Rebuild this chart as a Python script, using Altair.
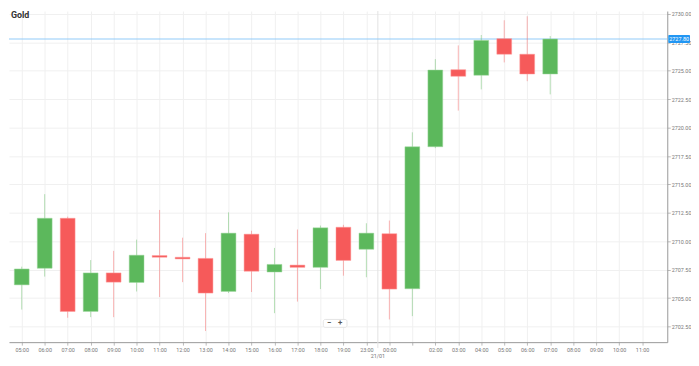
import altair as alt
import pandas as pd

# ---- data ----
hour_labels = ["05:00", "06:00", "07:00", "08:00", "09:00", "10:00", "11:00", "12:00",
               "13:00", "14:00", "15:00", "16:00", "17:00", "18:00", "19:00", "23:00",
               "00:00", "01:00", "02:00", "03:00", "04:00", "05:00", "06:00", "07:00",
               "08:00", "09:00", "10:00", "11:00"]
hidden_label_index = [17]
opens = [2706.17, 2707.63, 2712.03, 2703.83, 2707.22, 2706.38, 2708.75, 2708.60,
         2708.50, 2705.59, 2710.63, 2707.30, 2707.91, 2707.71, 2711.24, 2709.30,
         2710.67, 2705.83, 2718.32, 2725.10, 2724.61, 2727.83, 2726.46, 2724.72]
highs = [2707.77, 2714.15, 2712.17, 2708.35, 2709.16, 2710.15, 2712.76, 2710.32,
         2710.72, 2712.55, 2710.93, 2709.42, 2711.04, 2711.39, 2711.45, 2711.59,
         2711.83, 2719.59, 2726.03, 2727.24, 2728.15, 2729.45, 2729.80, 2728.06]
lows = [2704.00, 2706.90, 2703.28, 2703.33, 2703.33, 2705.59, 2705.10, 2706.41,
        2702.11, 2705.45, 2705.54, 2703.68, 2704.70, 2705.80, 2706.98, 2706.84,
        2703.13, 2703.42, 2718.20, 2721.50, 2723.37, 2725.74, 2724.09, 2722.93]
closes = [2707.57, 2712.03, 2703.83, 2707.22, 2706.41, 2708.78, 2708.60, 2708.45,
          2705.45, 2710.72, 2707.37, 2707.97, 2707.71, 2711.19, 2708.32, 2710.72,
          2705.80, 2718.32, 2725.07, 2724.52, 2727.68, 2726.46, 2724.72, 2727.80]
y_ticks = [2702.5, 2705.0, 2707.5, 2710.0, 2712.5, 2715.0, 2717.5, 2720.0,
           2722.5, 2725.0, 2727.5, 2730.0]
title_text = "Gold"
day_label = "21/01"
day_break_index = 15.5

GREEN = "#5cb85c"
RED = "#f65a5a"

df = pd.DataFrame({
    "i": list(range(len(opens))),
    "open": opens, "high": highs, "low": lows, "close": closes,
})
df["dir"] = ["up" if c >= o else "down" for o, c in zip(opens, closes)]

shown = ["" if k in hidden_label_index else lab for k, lab in enumerate(hour_labels)]
label_expr = "[" + ",".join("'%s'" % s for s in shown) + "][datum.value]"

FONT = "Roboto"
xscale = alt.Scale(domain=[-0.339, 27.88], nice=False, zero=False)
yscale = alt.Scale(domain=[2701.13, 2730.26], nice=False, zero=False)
color = alt.Color("dir:N", scale=alt.Scale(domain=["up", "down"], range=[GREEN, RED]), legend=None)

xaxis = alt.Axis(values=list(range(len(hour_labels))), labelExpr=label_expr, title=None,
                 labelOverlap=False, labelFlush=False, labelFontSize=5.5, labelColor="#777",
                 labelFont=FONT, tickSize=3, tickColor="#bbb", domainColor="#999",
                 gridColor="#f0f0f0", labelPadding=2)
yaxis = alt.Axis(orient="right", values=y_ticks, format=".2f", title=None,
                 labelOverlap=False, labelFlush=False,
                 labelFontSize=5.5, labelColor="#777", labelFont=FONT, tickSize=3,
                 tickColor="#bbb", domainColor="#999", gridColor="#f0f0f0", labelPadding=1)

base = alt.Chart(df)

wicks = base.mark_rule(strokeWidth=1, opacity=0.45).encode(
    x=alt.X("i:Q", scale=xscale, axis=xaxis),
    y=alt.Y("low:Q", scale=yscale, axis=yaxis),
    y2="high:Q",
    color=color,
)
bodies = base.mark_bar(size=15, strokeWidth=1, strokeOpacity=0.5).encode(
    x=alt.X("i:Q", scale=xscale, axis=xaxis),
    y=alt.Y("open:Q", scale=yscale, axis=yaxis),
    y2="close:Q",
    color=color,
    stroke=alt.Stroke("dir:N", scale=alt.Scale(domain=["up", "down"], range=["#9fd89f", "#ff9c9c"]), legend=None),
)

last_df = pd.DataFrame({"price": [closes[-1]], "label": ["%.2f" % closes[-1]]})
price_line = alt.Chart(last_df).mark_rule(color="#90caf9", strokeWidth=1).encode(
    y=alt.Y("price:Q", scale=yscale, axis=yaxis),
    x=alt.value(0), x2=alt.value(666),
)
price_tag = alt.Chart(last_df).mark_rect(color="#2196f3", clip=False, cornerRadius=1).transform_calculate(
    p1="datum.price + 0.36", p0="datum.price - 0.36"
).encode(
    y=alt.Y("p1:Q", scale=yscale, axis=yaxis), y2="p0:Q",
    x=alt.value(667), x2=alt.value(689),
)
price_text = alt.Chart(last_df).mark_text(color="white", fontSize=5.5, font=FONT, clip=False,
                                          align="center", baseline="middle").encode(
    y=alt.Y("price:Q", scale=yscale, axis=yaxis), x=alt.value(678), text="label:N")

day_df = pd.DataFrame({"x": [day_break_index], "label": [day_label]})
day_rule = alt.Chart(day_df).mark_rule(color="#e2e2e2", strokeWidth=1, clip=False).encode(
    x=alt.X("x:Q", scale=xscale, axis=xaxis), y=alt.value(0), y2=alt.value(341))
day_text = alt.Chart(day_df).mark_text(fontSize=5.5, font=FONT, color="#777", clip=False,
                                       baseline="middle").encode(
    x=alt.X("x:Q", scale=xscale, axis=xaxis), y=alt.value(349), text="label:N")

title = alt.Chart(pd.DataFrame({"t": [title_text]})).mark_text(
    fontSize=9, fontWeight="bold", font=FONT, color="#333", align="left", baseline="middle"
).encode(x=alt.value(2), y=alt.value(4), text="t:N")

zoom_box = alt.Chart(pd.DataFrame({"a": [0]})).mark_rect(
    color="white", stroke="#e4e4e4", strokeWidth=1, cornerRadius=2).encode(
    x=alt.value(318), x2=alt.value(342), y=alt.value(312), y2=alt.value(320))
zoom_minus = alt.Chart(pd.DataFrame({"t": ["−"]})).mark_text(
    fontSize=8, fontWeight="bold", font=FONT, color="#555", baseline="middle").encode(
    x=alt.value(324), y=alt.value(316), text="t:N")
zoom_plus = alt.Chart(pd.DataFrame({"t": ["+"]})).mark_text(
    fontSize=8, fontWeight="bold", font=FONT, color="#555", baseline="middle").encode(
    x=alt.value(335), y=alt.value(316), text="t:N")

chart = alt.layer(
    day_rule, price_line, wicks, bodies, price_tag, price_text, day_text, title,
    zoom_box, zoom_minus, zoom_plus
).properties(
    width=666, height=335, padding=0, background="white"
).configure_view(stroke=None).configure_axis(grid=True)

chart.save("out.html", embed_options={"renderer": "svg", "actions": False})
